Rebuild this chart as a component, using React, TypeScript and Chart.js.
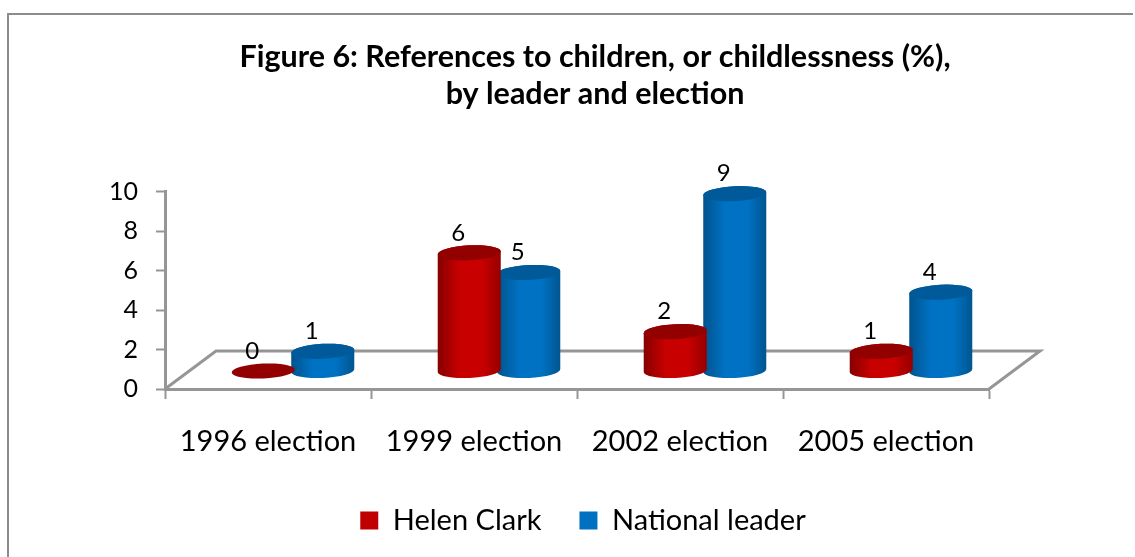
import React, { useEffect, useRef } from "react";
import { Chart, BarController, registerables } from "chart.js";

const categories = ["1996 election", "1999 election", "2002 election", "2005 election"];
const helenClark = [0, 6, 2, 1];
const nationalLeader = [1, 5, 9, 4];
const yTicks = [0, 2, 4, 6, 8, 10];
const titleLines = ["Figure 6: References to children, or childlessness (%),", "by leader and election"];

const FONT = "Lato, 'Open Sans', sans-serif";
const AXIS_GREY = "#969696";

// Oblique projection of the chart floor: how far the back edge sits from the front edge.
const FLOOR_DX = 51;
const FLOOR_DY = -38;
// Where a column stands on the floor, relative to the front edge.
const BAR_DX = 25;
const BAR_DY = -18;
const ELLIPSE_RATIO = 0.118;
const ELLIPSE_TILT = -0.05;

type Shade = { edge: string; mid: string; right: string; top: string };
const RED: Shade = { edge: "#860000", mid: "#c80000", right: "#960000", top: "#930000" };
const BLUE: Shade = { edge: "#00538c", mid: "#0072c4", right: "#00558f", top: "#005a9a" };

function cylinder(ctx: CanvasRenderingContext2D, cx: number, topY: number, baseY: number, w: number, s: Shade) {
  const rx = w / 2;
  const ry = w * ELLIPSE_RATIO;
  const g = ctx.createLinearGradient(cx - rx, 0, cx + rx, 0);
  g.addColorStop(0, s.edge);
  g.addColorStop(0.35, s.mid);
  g.addColorStop(0.7, s.mid);
  g.addColorStop(1, s.right);
  if (baseY - topY > 0.5) {
    ctx.beginPath();
    ctx.ellipse(cx, baseY, rx, ry, ELLIPSE_TILT, Math.PI, 0, true);
    ctx.ellipse(cx, topY, rx, ry, ELLIPSE_TILT, 0, Math.PI, true);
    ctx.closePath();
    ctx.fillStyle = g;
    ctx.fill();
  }
  ctx.beginPath();
  ctx.ellipse(cx, topY, rx, ry, ELLIPSE_TILT, 0, Math.PI * 2);
  ctx.fillStyle = s.top;
  ctx.fill();
}

// Bar controller whose elements are painted as shaded cylinders standing on the floor.
class CylinderController extends BarController {
  static id = "cylinderBar";
  static defaults = { ...BarController.defaults };
  static overrides = BarController.overrides;
  draw() {
    const ctx = this.chart.ctx;
    const shade = this.index === 0 ? RED : BLUE;
    ctx.save();
    for (const el of this._cachedMeta.data as any[]) {
      cylinder(ctx, el.x + BAR_DX, el.y + BAR_DY, el.base + BAR_DY, el.width, shade);
    }
    ctx.restore();
  }
}

Chart.register(...registerables, CylinderController);

const framePlugin = {
  id: "frameAndFloor",
  afterLayout(chart: any) {
    // Title and legend are centred on their own visual middles, not the plot box.
    chart.titleBlock.left += 100.5;
    chart.titleBlock.right += 100.5;
    chart.legend.left += 88.5;
    chart.legend.right += 88.5;
    chart.legend.top = 468;
    chart.legend.bottom = 468 + chart.legend.height;
  },
  beforeDatasetsDraw(chart: any) {
    const { ctx, chartArea: a } = chart;
    ctx.save();
    ctx.strokeStyle = AXIS_GREY;
    ctx.lineWidth = 3;
    ctx.beginPath();
    ctx.moveTo(a.left, a.bottom);
    ctx.lineTo(a.left + FLOOR_DX, a.bottom + FLOOR_DY);
    ctx.lineTo(a.right + FLOOR_DX, a.bottom + FLOOR_DY);
    ctx.lineTo(a.right, a.bottom);
    ctx.stroke();
    ctx.restore();
  },
  beforeDraw(chart: any) {
    const { ctx, width, height } = chart;
    ctx.save();
    ctx.strokeStyle = "#8c8c8c";
    ctx.lineWidth = 2;
    ctx.beginPath();
    ctx.moveTo(8, height);
    ctx.lineTo(8, 14);
    ctx.lineTo(width - 2, 14);
    ctx.stroke();
    ctx.restore();
  },
  afterDatasetsDraw(chart: any) {
    const { ctx } = chart;
    ctx.save();
    ctx.font = `24px ${FONT}`;
    ctx.fillStyle = "#000";
    ctx.textAlign = "center";
    ctx.textBaseline = "middle";
    chart.data.datasets.forEach((ds: any, i: number) => {
      chart.getDatasetMeta(i).data.forEach((el: any, j: number) => {
        ctx.fillText(String(ds.data[j]), el.x + 14, el.y + BAR_DY - 20);
      });
    });
    ctx.restore();
  },
};

export default function App() {
  const ref = useRef<HTMLCanvasElement>(null);
  useEffect(() => {
    const chart = new Chart(ref.current!, {
      type: "cylinderBar" as any,
      data: {
        labels: categories,
        datasets: [
          { label: "Helen Clark", data: helenClark, backgroundColor: "#c00000", borderWidth: 0, clip: false },
          { label: "National leader", data: nationalLeader, backgroundColor: "#0070c0", borderWidth: 0, clip: false },
        ],
      },
      options: {
        animation: false,
        responsive: false,
        layout: { padding: { left: 0, right: 146, top: 0, bottom: 0 } },
        datasets: { cylinderBar: { categoryPercentage: 0.578, barPercentage: 1.06 } } as any,
        plugins: {
          title: {
            display: true,
            text: titleLines,
            color: "#000",
            font: { family: FONT, size: 30.5, weight: "bold", lineHeight: 1.213 },
            padding: { top: 39, bottom: 79 },
          },
          legend: {
            position: "bottom",
            labels: {
              boxWidth: 18,
              boxHeight: 18,
              color: "#000",
              font: { family: FONT, size: 29 },
              padding: 38,
            },
          },
          tooltip: { enabled: false },
        },
        scales: {
          x: {
            afterFit(scale: any) {
              scale.height = 557 - 389 - scale.chart.legend.height;
            },
            border: { color: AXIS_GREY, width: 3 },
            grid: { display: true, drawOnChartArea: false, drawTicks: true, tickLength: 10, tickColor: AXIS_GREY, tickWidth: 2 },
            ticks: { color: "#000", font: { family: FONT, size: 29 }, padding: 25, maxRotation: 0 },
          },
          y: {
            min: 0,
            max: 10,
            afterFit(scale: any) {
              scale.width = 165;
            },
            afterBuildTicks(scale: any) {
              scale.ticks = yTicks.map((value) => ({ value }));
            },
            border: { color: AXIS_GREY, width: 3 },
            grid: { display: true, drawOnChartArea: false, drawTicks: true, tickLength: 9, tickColor: AXIS_GREY, tickWidth: 2 },
            ticks: { color: "#000", font: { family: FONT, size: 25 }, padding: 18 },
          },
        },
      } as any,
      plugins: [framePlugin],
    });
    return () => chart.destroy();
  }, []);
  return (
    <div style={{ position: "fixed", left: 0, top: 0, width: 1135, height: 557, background: "#fff" }}>
      <canvas ref={ref} width={1135} height={557} style={{ display: "block" }} />
    </div>
  );
}
